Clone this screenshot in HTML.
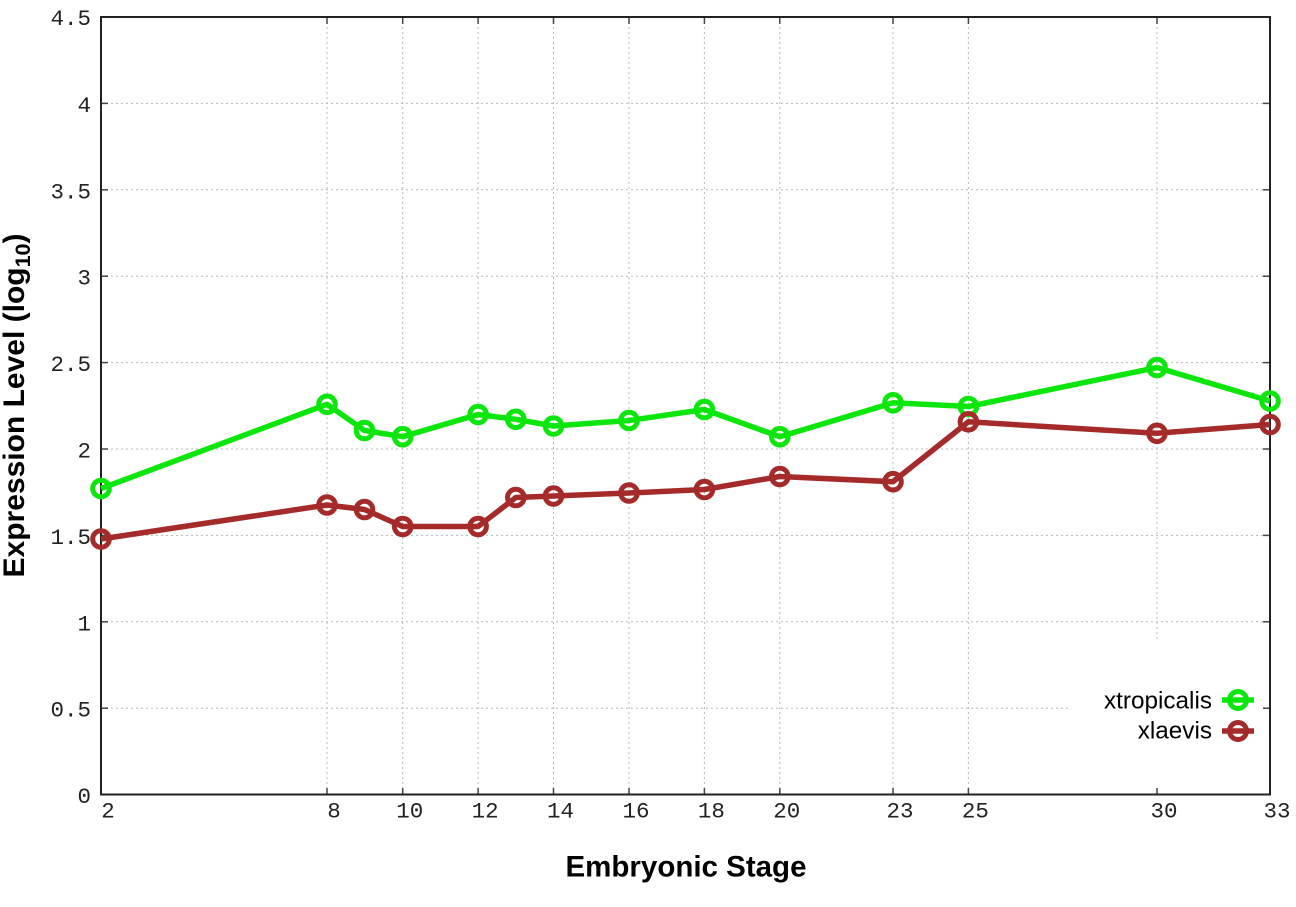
<!DOCTYPE html>
<html>
<head>
<meta charset="utf-8">
<style>
  html, body { margin: 0; padding: 0; background: #fff; }
  svg { display: block; }
</style>
</head>
<body>
<svg width="1296" height="907" viewBox="0 0 1296 907" xmlns="http://www.w3.org/2000/svg">
  <rect x="0" y="0" width="1296" height="907" fill="#fff"/>

  <!-- grid: horizontal -->
  <g stroke="#b8b8b8" stroke-width="1" stroke-dasharray="2,3" fill="none">
    <line x1="101" y1="103.4" x2="1270" y2="103.4"/>
    <line x1="101" y1="189.8" x2="1270" y2="189.8"/>
    <line x1="101" y1="276.2" x2="1270" y2="276.2"/>
    <line x1="101" y1="362.6" x2="1270" y2="362.6"/>
    <line x1="101" y1="449" x2="1270" y2="449"/>
    <line x1="101" y1="535.4" x2="1270" y2="535.4"/>
    <line x1="101" y1="621.8" x2="1270" y2="621.8"/>
    <line x1="101" y1="708.2" x2="1270" y2="708.2"/>
    <!-- vertical -->
    <line x1="327" y1="17" x2="327" y2="795"/>
    <line x1="402.7" y1="17" x2="402.7" y2="795"/>
    <line x1="478.1" y1="17" x2="478.1" y2="795"/>
    <line x1="553.5" y1="17" x2="553.5" y2="795"/>
    <line x1="629" y1="17" x2="629" y2="795"/>
    <line x1="704.4" y1="17" x2="704.4" y2="795"/>
    <line x1="779.8" y1="17" x2="779.8" y2="795"/>
    <line x1="893" y1="17" x2="893" y2="795"/>
    <line x1="968.4" y1="17" x2="968.4" y2="795"/>
    <line x1="1157" y1="17" x2="1157" y2="795"/>
  </g>

  <!-- legend background -->
  <rect x="1071" y="642" width="197" height="151" fill="#fff"/>

  <!-- ticks -->
  <g stroke="#444" stroke-width="1.5">
    <line x1="101" y1="103.4" x2="108" y2="103.4"/>
    <line x1="101" y1="189.8" x2="108" y2="189.8"/>
    <line x1="101" y1="276.2" x2="108" y2="276.2"/>
    <line x1="101" y1="362.6" x2="108" y2="362.6"/>
    <line x1="101" y1="449" x2="108" y2="449"/>
    <line x1="101" y1="535.4" x2="108" y2="535.4"/>
    <line x1="101" y1="621.8" x2="108" y2="621.8"/>
    <line x1="101" y1="708.2" x2="108" y2="708.2"/>
    <line x1="1263" y1="103.4" x2="1270" y2="103.4"/>
    <line x1="1263" y1="189.8" x2="1270" y2="189.8"/>
    <line x1="1263" y1="276.2" x2="1270" y2="276.2"/>
    <line x1="1263" y1="362.6" x2="1270" y2="362.6"/>
    <line x1="1263" y1="449" x2="1270" y2="449"/>
    <line x1="1263" y1="535.4" x2="1270" y2="535.4"/>
    <line x1="1263" y1="621.8" x2="1270" y2="621.8"/>
    <line x1="1263" y1="708.2" x2="1270" y2="708.2"/>
    <line x1="327" y1="788" x2="327" y2="795"/>
    <line x1="402.7" y1="788" x2="402.7" y2="795"/>
    <line x1="478.1" y1="788" x2="478.1" y2="795"/>
    <line x1="553.5" y1="788" x2="553.5" y2="795"/>
    <line x1="629" y1="788" x2="629" y2="795"/>
    <line x1="704.4" y1="788" x2="704.4" y2="795"/>
    <line x1="779.8" y1="788" x2="779.8" y2="795"/>
    <line x1="893" y1="788" x2="893" y2="795"/>
    <line x1="968.4" y1="788" x2="968.4" y2="795"/>
    <line x1="1157" y1="788" x2="1157" y2="795"/>
    <line x1="327" y1="17" x2="327" y2="24"/>
    <line x1="402.7" y1="17" x2="402.7" y2="24"/>
    <line x1="478.1" y1="17" x2="478.1" y2="24"/>
    <line x1="553.5" y1="17" x2="553.5" y2="24"/>
    <line x1="629" y1="17" x2="629" y2="24"/>
    <line x1="704.4" y1="17" x2="704.4" y2="24"/>
    <line x1="779.8" y1="17" x2="779.8" y2="24"/>
    <line x1="893" y1="17" x2="893" y2="24"/>
    <line x1="968.4" y1="17" x2="968.4" y2="24"/>
    <line x1="1157" y1="17" x2="1157" y2="24"/>
  </g>

  <!-- border -->
  <rect x="101" y="17" width="1169" height="777.5" fill="none" stroke="#222" stroke-width="2"/>

  <!-- y tick labels -->
  <g font-family="'Liberation Mono', 'Courier New', monospace" font-size="22.5" fill="#222" text-anchor="end">
    <text x="91" y="25">4.5</text>
    <text x="91" y="111.9">4</text>
    <text x="91" y="198.3">3.5</text>
    <text x="91" y="284.7">3</text>
    <text x="91" y="371.1">2.5</text>
    <text x="91" y="457.5">2</text>
    <text x="91" y="543.9">1.5</text>
    <text x="91" y="630.3">1</text>
    <text x="91" y="716.7">0.5</text>
    <text x="91" y="803">0</text>
  </g>

  <!-- x tick labels -->
  <g font-family="'Liberation Mono', 'Courier New', monospace" font-size="22.5" fill="#222" text-anchor="middle">
    <text x="108" y="817.5">2</text>
    <text x="334" y="817.5">8</text>
    <text x="409.7" y="817.5">10</text>
    <text x="485.1" y="817.5">12</text>
    <text x="560.5" y="817.5">14</text>
    <text x="636" y="817.5">16</text>
    <text x="711.4" y="817.5">18</text>
    <text x="786.8" y="817.5">20</text>
    <text x="900" y="817.5">23</text>
    <text x="975.4" y="817.5">25</text>
    <text x="1164" y="817.5">30</text>
    <text x="1277" y="817.5">33</text>
  </g>

  <!-- axis titles -->
  <text x="686" y="876.5" font-family="'Liberation Sans', Arial, sans-serif" font-size="29.5" font-weight="bold" fill="#000" text-anchor="middle">Embryonic Stage</text>
  <text transform="translate(24,405.5) rotate(-90)" font-family="'Liberation Sans', Arial, sans-serif" font-size="30" font-weight="bold" fill="#000" text-anchor="middle">Expression Level (log<tspan font-size="21.5" dy="6">10</tspan><tspan dy="-6">)</tspan></text>

  <!-- green series: xtropicalis -->
  <g stroke="#0ce60c" stroke-width="5.5" fill="none" stroke-linejoin="round">
    <polyline points="101,488.5 327,404.3 364.5,430.5 402.7,436.7 478.1,414.5 515.8,419.3 553.5,426 629,420.5 704.4,409.5 779.8,436.7 893,402.8 968.4,406.5 1157,367.5 1270,401"/>
    <g stroke-width="5">
      <circle cx="101" cy="488.5" r="8.3"/>
      <circle cx="327" cy="404.3" r="8.3"/>
      <circle cx="364.5" cy="430.5" r="8.3"/>
      <circle cx="402.7" cy="436.7" r="8.3"/>
      <circle cx="478.1" cy="414.5" r="8.3"/>
      <circle cx="515.8" cy="419.3" r="8.3"/>
      <circle cx="553.5" cy="426" r="8.3"/>
      <circle cx="629" cy="420.5" r="8.3"/>
      <circle cx="704.4" cy="409.5" r="8.3"/>
      <circle cx="779.8" cy="436.7" r="8.3"/>
      <circle cx="893" cy="402.8" r="8.3"/>
      <circle cx="968.4" cy="406.5" r="8.3"/>
      <circle cx="1157" cy="367.5" r="8.3"/>
      <circle cx="1270" cy="401" r="8.3"/>
    </g>
  </g>

  <!-- red series: xlaevis -->
  <g stroke="#a52a2a" stroke-width="5.5" fill="none" stroke-linejoin="round">
    <polyline points="101,539 327,505 364.5,509.5 402.7,526.5 478.1,526.5 515.8,497.5 553.5,496 629,493 704.4,489.5 779.8,476.5 893,481.7 968.4,421.8 1157,433.3 1270,424.5"/>
    <g stroke-width="5">
      <circle cx="101" cy="539" r="8.3"/>
      <circle cx="327" cy="505" r="8.3"/>
      <circle cx="364.5" cy="509.5" r="8.3"/>
      <circle cx="402.7" cy="526.5" r="8.3"/>
      <circle cx="478.1" cy="526.5" r="8.3"/>
      <circle cx="515.8" cy="497.5" r="8.3"/>
      <circle cx="553.5" cy="496" r="8.3"/>
      <circle cx="629" cy="493" r="8.3"/>
      <circle cx="704.4" cy="489.5" r="8.3"/>
      <circle cx="779.8" cy="476.5" r="8.3"/>
      <circle cx="893" cy="481.7" r="8.3"/>
      <circle cx="968.4" cy="421.8" r="8.3"/>
      <circle cx="1157" cy="433.3" r="8.3"/>
      <circle cx="1270" cy="424.5" r="8.3"/>
    </g>
  </g>

  <!-- legend -->
  <g font-family="'Liberation Sans', Arial, sans-serif" font-size="24.3" fill="#000" text-anchor="end">
    <text x="1212" y="708.5">xtropicalis</text>
    <text x="1212" y="738.5">xlaevis</text>
  </g>
  <g stroke="#0ce60c" stroke-width="5.5" fill="none">
    <line x1="1222" y1="700" x2="1254" y2="700"/>
    <circle cx="1238" cy="700" r="8.5" stroke-width="5"/>
  </g>
  <g stroke="#a52a2a" stroke-width="5.5" fill="none">
    <line x1="1222" y1="731" x2="1254" y2="731"/>
    <circle cx="1238" cy="731" r="8.5" stroke-width="5"/>
  </g>
</svg>
</body>
</html>
